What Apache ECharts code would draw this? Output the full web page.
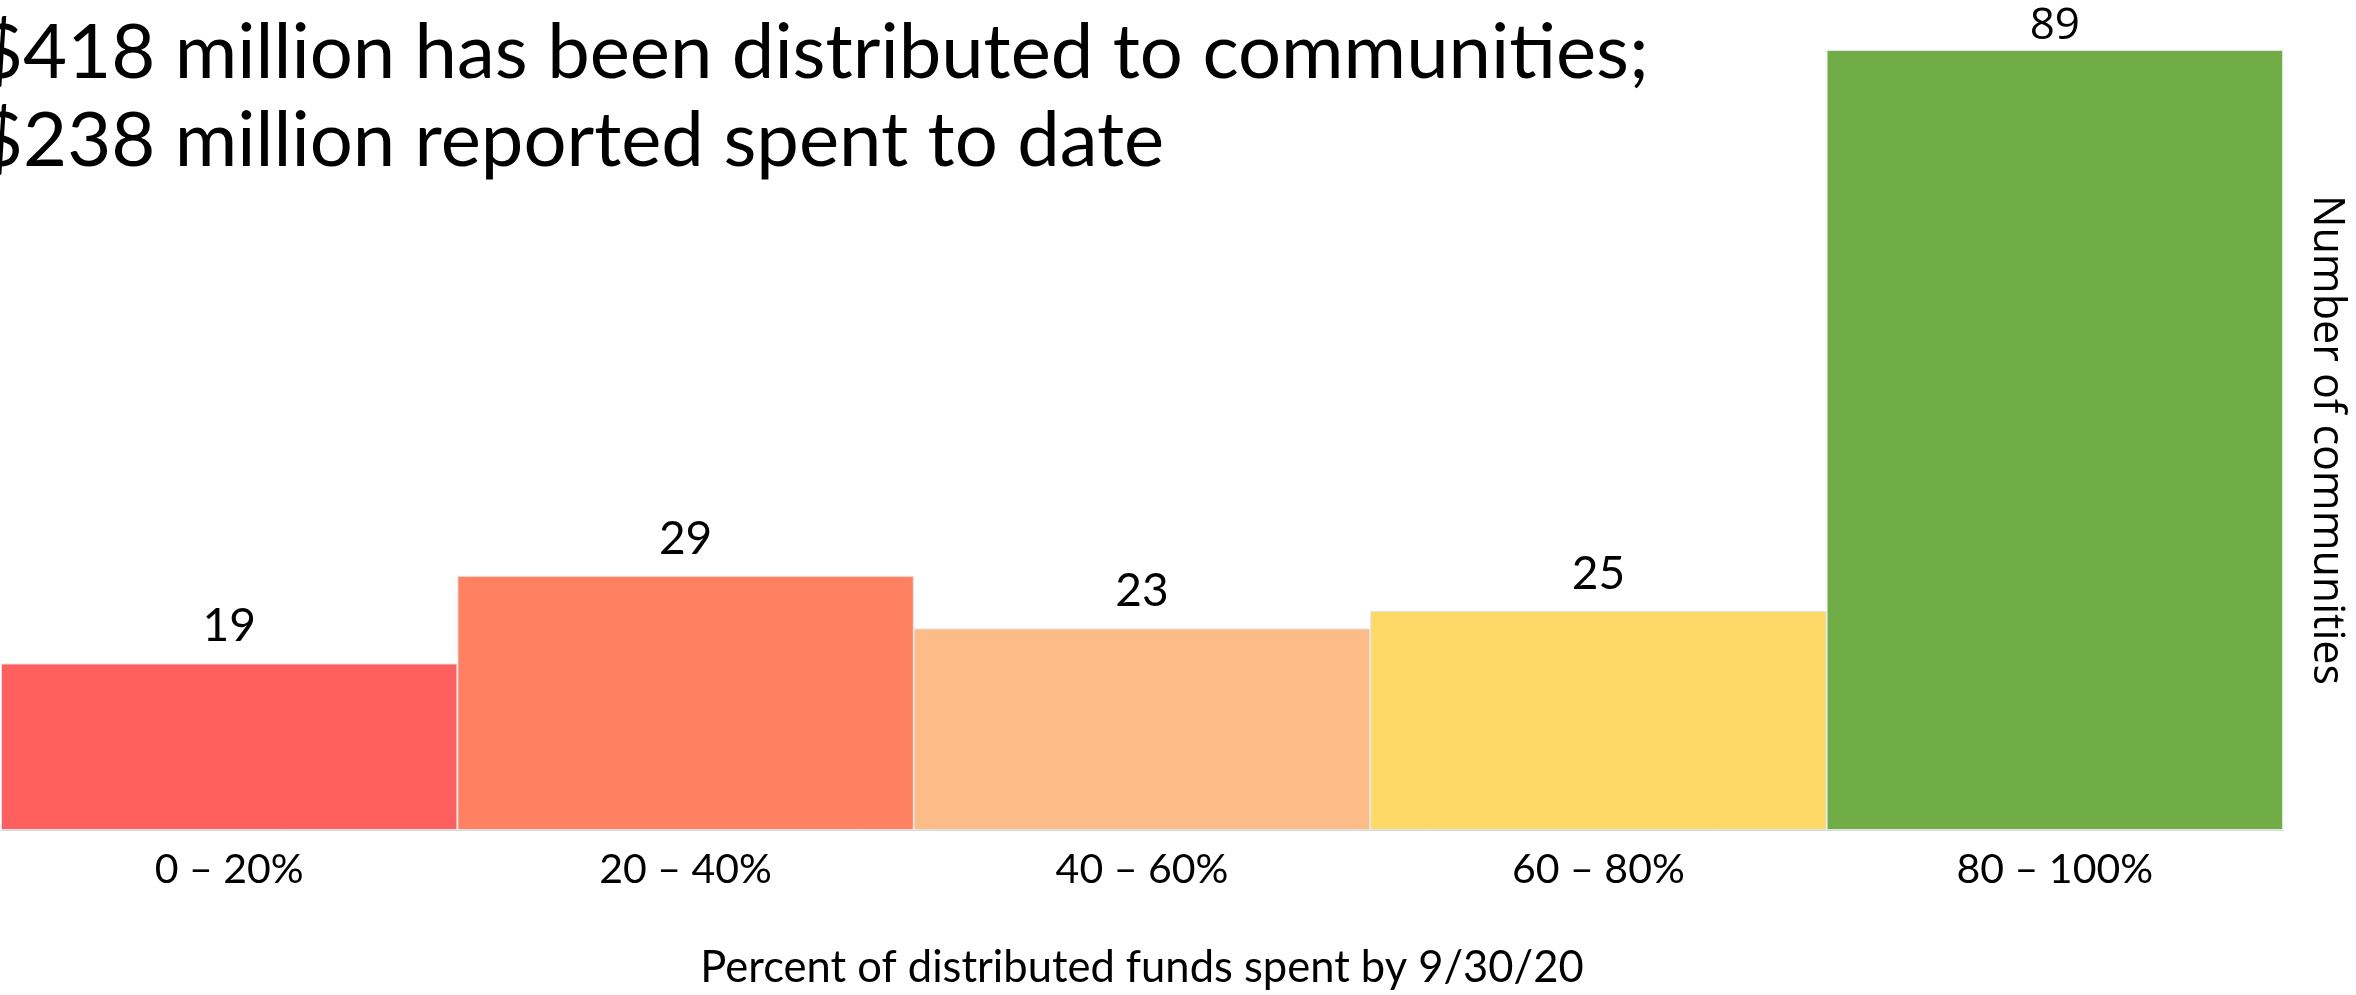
<!DOCTYPE html>
<html>
<head>
<meta charset="utf-8">
<script src="https://cdn.jsdelivr.net/npm/echarts@6/dist/echarts.min.js"></script>
<style>
html,body{margin:0;padding:0;background:#fff;}
#chart{width:2356px;height:995px;}
</style>
</head>
<body>
<div id="chart"></div>
<script>
const titleLines = ["$418 million has been distributed to communities;", "$238 million reported spent to date"];
const categories = ["0 – 20%", "20 – 40%", "40 – 60%", "60 – 80%", "80 – 100%"];
const counts = [19, 29, 23, 25, 89];
const barColors = ["#FF5F5F", "#FF8161", "#FDBB87", "#FED967", "#70AD47"];
const xAxisName = "Percent of distributed funds spent by 9/30/20";
const yAxisName = "Number of communities";

const chart = echarts.init(document.getElementById('chart'), null, {renderer: 'canvas'});
const option = {
  backgroundColor: '#ffffff',
  animation: false,
  title: {
    text: titleLines.join('\n'),
    left: -26,
    top: 4,
    textStyle: {fontFamily: 'Lato', fontSize: 76, fontWeight: 'normal', color: '#000', lineHeight: 88}
  },
  grid: {left: 1, right: 50, top: 50, bottom: 164, containLabel: false},
  xAxis: {
    type: 'category',
    data: categories,
    axisLine: {show: true, lineStyle: {color: '#D9D9D9', width: 1}},
    axisTick: {show: false},
    axisLabel: {fontFamily: 'Lato', fontSize: 41, color: '#000', margin: 19},
    name: xAxisName,
    nameLocation: 'middle',
    nameGap: 116,
    nameTextStyle: {fontFamily: 'Lato', fontSize: 43.5, color: '#000'}
  },
  yAxis: {
    type: 'value',
    position: 'right',
    min: 0,
    max: 89,
    splitLine: {show: false},
    axisLine: {show: false},
    axisTick: {show: false},
    axisLabel: {show: false},
    name: yAxisName,
    nameLocation: 'middle',
    nameRotate: -90,
    nameGap: 22,
    nameTextStyle: {fontFamily: 'Open Sans', fontSize: 43, color: '#000'}
  },
  series: [{
    type: 'bar',
    barCategoryGap: '0%',
    data: counts.map((v, i) => ({
      value: v,
      itemStyle: {color: barColors[i]},
      label: i === 4 ? {fontFamily: 'Open Sans', fontSize: 44, distance: 2} : {}
    })),
    itemStyle: {borderColor: '#E3E3E3', borderWidth: 1},
    label: {show: true, position: 'top', distance: 14, fontFamily: 'Lato', fontSize: 46, color: '#000'}
  }]
};
chart.setOption(option);
</script>
</body>
</html>
